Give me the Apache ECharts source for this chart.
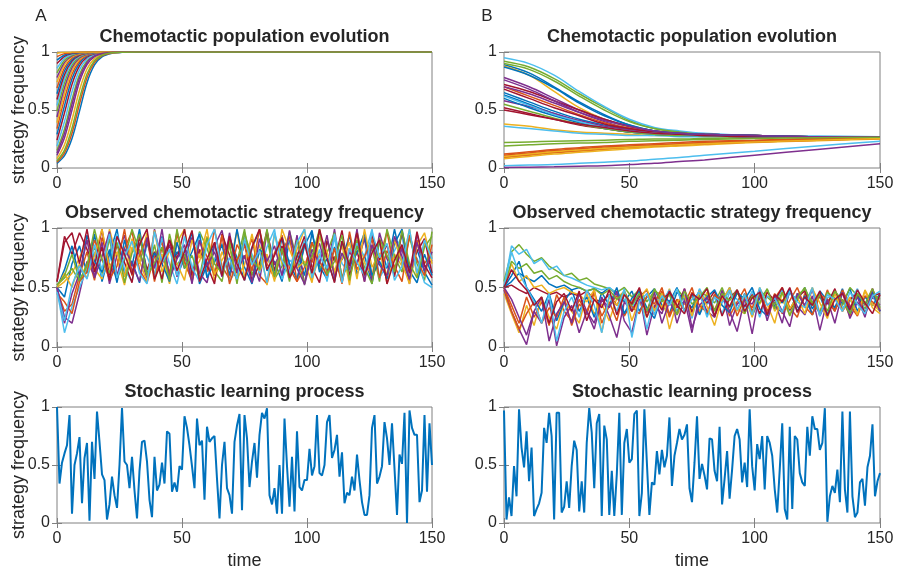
<!DOCTYPE html>
<html>
<head>
<meta charset="utf-8">
<script src="https://cdn.jsdelivr.net/npm/echarts@6/dist/echarts.min.js"></script>
<style>
  html, body { margin: 0; padding: 0; background: #fff; }
  #chart { width: 897px; height: 571px; }
</style>
</head>
<body>
<div id="chart"></div>
<script>
// MATLAB default line colours
const palette = ['#0072BD', '#D95319', '#EDB120', '#7E2F8E', '#77AC30', '#4DBEEE', '#A2142F'];

const panelTitles = [
  'Chemotactic population evolution', 'Chemotactic population evolution',
  'Observed chemotactic strategy frequency', 'Observed chemotactic strategy frequency',
  'Stochastic learning process', 'Stochastic learning process'
];
const panelLetters = ['A', 'B'];
const xTicks = [0, 50, 100, 150];
const yTicks = [0, 0.5, 1];

// panel A, top: times and curves
const popATimes = [0, 3, 6, 9, 12, 15, 18, 22, 26, 32, 40, 150];
const popA = [
  [0.04, 0.106, 0.254, 0.49, 0.735, 0.888, 0.958, 0.989, 0.997, 1, 1, 1],
  [0.05, 0.131, 0.3, 0.552, 0.779, 0.91, 0.966, 0.991, 0.998, 1, 1, 1],
  [0.08, 0.2, 0.416, 0.67, 0.853, 0.943, 0.979, 0.995, 0.999, 1, 1, 1],
  [0.11, 0.261, 0.5, 0.743, 0.892, 0.959, 0.985, 0.996, 1, 1, 1, 1],
  [0.15, 0.336, 0.591, 0.805, 0.922, 0.971, 0.99, 0.997, 1, 1, 1, 1],
  [0.19, 0.401, 0.657, 0.846, 0.94, 0.978, 0.992, 0.998, 1, 1, 1, 1],
  [0.24, 0.475, 0.721, 0.881, 0.955, 0.984, 0.994, 0.999, 1, 1, 1, 1],
  [0.29, 0.537, 0.769, 0.905, 0.964, 0.987, 0.995, 0.999, 1, 1, 1, 1],
  [0.34, 0.596, 0.808, 0.923, 0.972, 0.99, 0.996, 0.999, 1, 1, 1, 1],
  [0.39, 0.646, 0.839, 0.937, 0.977, 0.992, 0.997, 1, 1, 1, 1, 1],
  [0.44, 0.692, 0.865, 0.948, 0.981, 0.993, 0.998, 1, 1, 1, 1, 1],
  [0.49, 0.733, 0.887, 0.957, 0.985, 0.995, 0.998, 1, 1, 1, 1, 1],
  [0.54, 0.77, 0.906, 0.965, 0.987, 0.996, 0.999, 1, 1, 1, 1, 1],
  [0.59, 0.804, 0.921, 0.971, 0.99, 0.996, 0.999, 1, 1, 1, 1, 1],
  [0.64, 0.836, 0.936, 0.977, 0.992, 0.997, 0.999, 1, 1, 1, 1, 1],
  [0.69, 0.864, 0.948, 0.981, 0.993, 0.998, 1, 1, 1, 1, 1, 1],
  [0.74, 0.891, 0.959, 0.985, 0.995, 0.998, 1, 1, 1, 1, 1, 1],
  [0.78, 0.911, 0.967, 0.988, 0.996, 0.999, 1, 1, 1, 1, 1, 1],
  [0.82, 0.929, 0.974, 0.991, 0.997, 0.999, 1, 1, 1, 1, 1, 1],
  [0.86, 0.946, 0.981, 0.993, 0.998, 1, 1, 1, 1, 1, 1, 1],
  [0.9, 0.963, 0.987, 0.995, 0.998, 1, 1, 1, 1, 1, 1, 1],
  [0.93, 0.974, 0.991, 0.997, 0.999, 1, 1, 1, 1, 1, 1, 1],
  [0.96, 0.986, 0.995, 0.998, 1, 1, 1, 1, 1, 1, 1, 1],
  [0.99, 0.997, 0.999, 1, 1, 1, 1, 1, 1, 1, 1, 1],
  [0.13, 0.3, 0.55, 0.777, 0.909, 0.966, 0.988, 0.997, 1, 1, 1, 1],
  [0.06, 0.154, 0.343, 0.599, 0.81, 0.924, 0.972, 0.993, 0.998, 1, 1, 1]
];

// panel B, top
const popBTimes = [0, 10, 20, 30, 40, 50, 60, 70, 80, 100, 125, 150];
const popB = [
  [0.89, 0.82, 0.7, 0.57, 0.46, 0.37, 0.32, 0.3, 0.29, 0.28, 0.27, 0.27],
  [0.12, 0.14, 0.16, 0.175, 0.19, 0.2, 0.21, 0.22, 0.23, 0.24, 0.255, 0.265],
  [0.88, 0.8, 0.66, 0.52, 0.42, 0.35, 0.31, 0.3, 0.29, 0.28, 0.27, 0.27],
  [0.78, 0.7, 0.6, 0.5, 0.42, 0.36, 0.32, 0.3, 0.29, 0.28, 0.27, 0.27],
  [0.92, 0.87, 0.77, 0.64, 0.52, 0.41, 0.34, 0.31, 0.29, 0.28, 0.27, 0.27],
  [0.95, 0.9, 0.8, 0.66, 0.53, 0.42, 0.35, 0.32, 0.3, 0.28, 0.275, 0.27],
  [0.72, 0.66, 0.58, 0.5, 0.42, 0.36, 0.32, 0.3, 0.29, 0.28, 0.27, 0.27],
  [0.65, 0.57, 0.49, 0.42, 0.37, 0.33, 0.3, 0.29, 0.28, 0.27, 0.27, 0.27],
  [0.1, 0.12, 0.14, 0.155, 0.17, 0.185, 0.195, 0.205, 0.215, 0.23, 0.245, 0.26],
  [0.38, 0.36, 0.33, 0.31, 0.3, 0.29, 0.28, 0.28, 0.27, 0.27, 0.27, 0.27],
  [0.76, 0.68, 0.58, 0.48, 0.4, 0.34, 0.31, 0.3, 0.29, 0.28, 0.27, 0.27],
  [0.9, 0.85, 0.75, 0.62, 0.5, 0.4, 0.34, 0.31, 0.29, 0.28, 0.27, 0.27],
  [0.36, 0.34, 0.32, 0.3, 0.29, 0.28, 0.28, 0.27, 0.27, 0.27, 0.27, 0.27],
  [0.52, 0.47, 0.42, 0.37, 0.34, 0.31, 0.3, 0.29, 0.28, 0.27, 0.27, 0.27],
  [0.63, 0.55, 0.47, 0.4, 0.35, 0.31, 0.3, 0.29, 0.28, 0.27, 0.27, 0.27],
  [0.7, 0.62, 0.54, 0.46, 0.39, 0.34, 0.31, 0.29, 0.28, 0.27, 0.27, 0.27],
  [0.09, 0.11, 0.13, 0.145, 0.16, 0.175, 0.19, 0.2, 0.21, 0.225, 0.24, 0.255],
  [0.58, 0.53, 0.47, 0.41, 0.36, 0.33, 0.31, 0.3, 0.29, 0.28, 0.27, 0.27],
  [0.22, 0.225, 0.23, 0.235, 0.24, 0.245, 0.25, 0.25, 0.255, 0.26, 0.265, 0.27],
  [0.02, 0.025, 0.03, 0.04, 0.05, 0.06, 0.075, 0.09, 0.11, 0.145, 0.19, 0.23],
  [0.68, 0.6, 0.52, 0.45, 0.38, 0.34, 0.31, 0.29, 0.28, 0.27, 0.27, 0.27],
  [0.6, 0.52, 0.45, 0.39, 0.34, 0.31, 0.29, 0.28, 0.28, 0.27, 0.27, 0.27],
  [0.11, 0.13, 0.15, 0.165, 0.18, 0.19, 0.2, 0.21, 0.22, 0.235, 0.25, 0.26],
  [0.08, 0.1, 0.12, 0.135, 0.15, 0.165, 0.18, 0.19, 0.2, 0.22, 0.235, 0.25],
  [0.005, 0.007, 0.01, 0.015, 0.02, 0.03, 0.04, 0.055, 0.07, 0.11, 0.16, 0.21],
  [0.55, 0.49, 0.43, 0.38, 0.34, 0.31, 0.29, 0.28, 0.28, 0.27, 0.27, 0.27],
  [0.62, 0.54, 0.46, 0.4, 0.35, 0.32, 0.3, 0.29, 0.28, 0.27, 0.27, 0.27],
  [0.5, 0.46, 0.42, 0.38, 0.35, 0.32, 0.3, 0.29, 0.28, 0.27, 0.27, 0.27],
  [0.87, 0.8, 0.69, 0.56, 0.45, 0.37, 0.32, 0.3, 0.29, 0.28, 0.27, 0.27],
  [0.095, 0.115, 0.135, 0.15, 0.165, 0.18, 0.19, 0.2, 0.21, 0.225, 0.24, 0.255],
  [0.1, 0.12, 0.14, 0.155, 0.17, 0.18, 0.19, 0.2, 0.21, 0.225, 0.24, 0.255],
  [0.7, 0.64, 0.56, 0.48, 0.41, 0.36, 0.32, 0.3, 0.29, 0.28, 0.27, 0.27],
  [0.19, 0.2, 0.21, 0.215, 0.22, 0.23, 0.235, 0.24, 0.245, 0.255, 0.26, 0.265]
];

// observed frequencies, sampled every 3 time units
const obsStep = 3;
const obsA = [
  [0.5,0.42,0.7,0.85,0.62,0.95,0.55,0.78,0.99,0.6,0.72,0.54,0.88,0.67,0.93,0.58,0.8,0.71,0.97,0.53,0.69,0.86,0.62,0.92,0.75,0.56,0.83,0.98,0.64,0.72,0.55,0.9,0.79,0.6,0.96,0.68,0.57,0.84,0.73,0.94,0.61,0.77,0.53,0.89,0.66,0.99,0.7,0.58,0.82,0.63,0.52],
  [0.48,0.3,0.36,0.6,0.8,0.56,0.92,0.7,0.58,0.83,0.97,0.65,0.54,0.76,0.88,0.6,0.95,0.72,0.55,0.81,0.63,0.99,0.68,0.57,0.86,0.74,0.91,0.6,0.53,0.79,0.94,0.66,0.55,0.87,0.71,0.98,0.62,0.76,0.54,0.83,0.69,0.93,0.58,0.74,0.97,0.64,0.85,0.56,0.9,0.7,0.8],
  [0.5,0.55,0.62,0.75,0.9,0.66,0.57,0.99,0.74,0.52,0.84,0.7,0.96,0.61,0.78,0.53,0.88,0.99,0.64,0.72,0.93,0.55,0.8,0.67,0.98,0.59,0.73,0.86,0.52,0.95,0.7,0.61,0.82,0.99,0.56,0.77,0.9,0.63,0.86,0.52,0.97,0.71,0.6,0.92,0.53,0.78,0.68,0.99,0.59,0.87,0.75],
  [0.5,0.25,0.2,0.45,0.72,0.6,0.88,0.53,0.77,0.94,0.63,0.82,0.56,0.99,0.7,0.86,0.59,0.75,0.92,0.62,0.54,0.85,0.98,0.66,0.58,0.9,0.73,0.55,0.97,0.69,0.81,0.6,0.94,0.52,0.77,0.87,0.64,0.99,0.57,0.8,0.7,0.91,0.55,0.96,0.74,0.62,0.83,0.53,0.95,0.67,0.73],
  [0.52,0.58,0.66,0.55,0.7,0.84,0.62,0.91,0.57,0.73,0.99,0.8,0.6,0.86,0.54,0.95,0.69,0.78,0.58,0.97,0.83,0.64,0.55,0.89,0.71,0.99,0.6,0.8,0.93,0.57,0.68,0.97,0.74,0.53,0.88,0.65,0.79,0.96,0.58,0.72,0.9,0.61,0.84,0.55,0.99,0.76,0.63,0.92,0.7,0.56,0.97],
  [0.48,0.12,0.34,0.5,0.66,0.8,0.59,0.72,0.95,0.65,0.55,0.88,0.76,0.6,0.92,0.7,0.53,0.83,0.64,0.96,0.59,0.74,0.87,0.55,0.66,0.93,0.78,0.62,0.84,0.99,0.57,0.73,0.68,0.9,0.6,0.82,0.55,0.95,0.7,0.63,0.87,0.76,0.99,0.58,0.69,0.81,0.93,0.6,0.75,0.54,0.5],
  [0.55,0.93,0.78,0.96,0.82,0.68,0.99,0.6,0.86,0.71,0.54,0.93,0.65,0.8,0.57,0.9,0.74,0.99,0.6,0.82,0.69,0.53,0.95,0.77,0.62,0.88,0.55,0.7,0.98,0.64,0.85,0.57,0.76,0.93,0.67,0.54,0.89,0.72,0.98,0.6,0.81,0.55,0.94,0.73,0.86,0.59,0.97,0.66,0.8,0.91,0.62],
  [0.5,0.65,0.85,0.58,0.94,0.72,0.63,0.82,0.54,0.9,0.68,0.99,0.61,0.79,0.7,0.55,0.88,0.66,0.8,0.95,0.58,0.71,0.86,0.6,0.99,0.67,0.53,0.82,0.76,0.61,0.92,0.7,0.57,0.85,0.98,0.63,0.74,0.55,0.89,0.68,0.79,0.96,0.6,0.72,0.57,0.87,0.99,0.64,0.54,0.78,0.6],
  [0.45,0.38,0.28,0.55,0.63,0.9,0.74,0.57,0.68,0.99,0.6,0.77,0.92,0.55,0.84,0.62,0.97,0.71,0.57,0.89,0.76,0.6,0.94,0.53,0.73,0.85,0.64,0.99,0.7,0.58,0.8,0.93,0.55,0.67,0.88,0.72,0.6,0.83,0.53,0.97,0.65,0.76,0.91,0.58,0.81,0.68,0.55,0.94,0.73,0.6,0.86],
  [0.5,0.62,0.5,0.7,0.58,0.77,0.99,0.66,0.8,0.59,0.91,0.72,0.55,0.98,0.63,0.81,0.7,0.56,0.9,0.75,0.99,0.61,0.73,0.84,0.57,0.69,0.95,0.64,0.78,0.55,0.99,0.82,0.66,0.72,0.54,0.93,0.8,0.61,0.74,0.88,0.57,0.99,0.67,0.79,0.6,0.9,0.71,0.53,0.85,0.96,0.7],
  [0.5,0.2,0.45,0.62,0.9,0.58,0.76,0.97,0.6,0.83,0.7,0.55,0.92,0.66,0.99,0.57,0.74,0.86,0.53,0.9,0.68,0.8,0.59,0.96,0.63,0.77,0.54,0.91,0.72,0.85,0.6,0.98,0.66,0.53,0.82,0.7,0.94,0.58,0.79,0.65,0.99,0.55,0.86,0.69,0.6,0.93,0.76,0.57,0.88,0.64,0.8],
  [0.52,0.6,0.78,0.56,0.68,0.99,0.73,0.62,0.88,0.54,0.79,0.95,0.6,0.71,0.84,0.56,0.99,0.66,0.77,0.58,0.92,0.7,0.62,0.87,0.53,0.96,0.74,0.65,0.99,0.59,0.83,0.55,0.9,0.68,0.76,0.99,0.61,0.72,0.94,0.56,0.85,0.67,0.53,0.91,0.77,0.63,0.98,0.7,0.58,0.84,0.93],
  [0.46,0.22,0.52,0.68,0.57,0.86,0.65,0.95,0.58,0.76,0.89,0.62,0.53,0.97,0.71,0.82,0.6,0.93,0.67,0.55,0.86,0.99,0.63,0.75,0.57,0.9,0.69,0.81,0.54,0.96,0.73,0.62,0.88,0.99,0.58,0.77,0.66,0.92,0.54,0.83,0.71,0.6,0.97,0.75,0.87,0.56,0.68,0.99,0.62,0.9,0.74],
  [0.55,0.88,0.96,0.7,0.99,0.63,0.84,0.56,0.93,0.78,0.61,0.86,0.99,0.57,0.72,0.9,0.64,0.8,0.98,0.55,0.74,0.88,0.6,0.93,0.7,0.56,0.84,0.99,0.65,0.77,0.92,0.58,0.7,0.87,0.62,0.99,0.75,0.54,0.89,0.68,0.96,0.6,0.79,0.9,0.53,0.73,0.86,0.62,0.97,0.69,0.58]
];
const obsB = [
  [0.5,0.55,0.62,0.58,0.55,0.6,0.53,0.5,0.52,0.48,0.5,0.47,0.49,0.45,0.5,0.44,0.38,0.47,0.3,0.42,0.49,0.35,0.28,0.46,0.4,0.33,0.48,0.27,0.44,0.37,0.5,0.31,0.45,0.26,0.41,0.48,0.34,0.29,0.46,0.39,0.5,0.32,0.43,0.27,0.47,0.36,0.49,0.3,0.42,0.35,0.45],
  [0.5,0.35,0.2,0.42,0.25,0.38,0.18,0.44,0.3,0.22,0.4,0.27,0.48,0.2,0.35,0.43,0.26,0.38,0.49,0.29,0.33,0.47,0.25,0.4,0.36,0.5,0.28,0.42,0.31,0.46,0.26,0.38,0.49,0.3,0.44,0.27,0.41,0.5,0.33,0.25,0.45,0.37,0.29,0.48,0.32,0.4,0.26,0.44,0.35,0.49,0.3],
  [0.45,0.28,0.12,0.35,0.18,0.42,0.25,0.15,0.38,0.3,0.2,0.45,0.28,0.36,0.22,0.41,0.47,0.3,0.38,0.25,0.44,0.33,0.49,0.27,0.37,0.42,0.3,0.46,0.26,0.39,0.5,0.32,0.28,0.43,0.36,0.48,0.3,0.4,0.27,0.45,0.34,0.5,0.29,0.38,0.46,0.31,0.42,0.27,0.48,0.36,0.3],
  [0.48,0.3,0.15,0.02,0.3,0.2,0.4,0.01,0.25,0.35,0.12,0.3,0.2,0.42,0.26,0.08,0.38,0.3,0.45,0.1,0.35,0.28,0.47,0.2,0.4,0.12,0.44,0.3,0.25,0.48,0.18,0.36,0.42,0.11,0.46,0.3,0.38,0.2,0.49,0.34,0.27,0.43,0.14,0.4,0.3,0.47,0.24,0.38,0.28,0.42,0.35],
  [0.55,0.8,0.86,0.78,0.72,0.75,0.68,0.64,0.6,0.62,0.56,0.58,0.53,0.51,0.49,0.46,0.5,0.42,0.48,0.38,0.47,0.44,0.35,0.49,0.41,0.3,0.46,0.43,0.37,0.5,0.33,0.45,0.4,0.28,0.47,0.42,0.36,0.49,0.31,0.44,0.48,0.38,0.29,0.46,0.41,0.35,0.5,0.43,0.32,0.45,0.4],
  [0.5,0.85,0.78,0.82,0.7,0.74,0.65,0.68,0.6,0.58,0.55,0.52,0.5,0.48,0.5,0.45,0.4,0.32,0.47,0.15,0.42,0.38,0.48,0.3,0.44,0.24,0.49,0.36,0.42,0.28,0.46,0.4,0.33,0.47,0.25,0.43,0.39,0.48,0.3,0.45,0.35,0.5,0.27,0.41,0.46,0.33,0.38,0.49,0.29,0.44,0.3],
  [0.5,0.52,0.48,0.45,0.5,0.47,0.44,0.46,0.42,0.45,0.43,0.47,0.4,0.38,0.44,0.35,0.46,0.3,0.42,0.48,0.27,0.4,0.45,0.33,0.49,0.29,0.43,0.37,0.47,0.26,0.41,0.48,0.34,0.44,0.28,0.46,0.39,0.5,0.31,0.42,0.47,0.27,0.44,0.36,0.49,0.3,0.4,0.45,0.28,0.43,0.45],
  [0.5,0.6,0.72,0.5,0.4,0.3,0.45,0.22,0.38,0.48,0.3,0.42,0.25,0.46,0.35,0.5,0.28,0.41,0.47,0.33,0.24,0.44,0.38,0.5,0.3,0.45,0.27,0.42,0.48,0.35,0.29,0.46,0.4,0.5,0.32,0.26,0.44,0.37,0.48,0.3,0.43,0.27,0.47,0.39,0.33,0.49,0.28,0.42,0.36,0.46,0.3],
  [0.5,0.3,0.15,0.28,0.38,0.2,0.33,0.25,0.42,0.18,0.36,0.3,0.45,0.26,0.38,0.22,0.47,0.34,0.28,0.43,0.36,0.5,0.27,0.4,0.31,0.46,0.35,0.29,0.44,0.38,0.48,0.26,0.41,0.33,0.47,0.3,0.45,0.28,0.39,0.5,0.34,0.27,0.44,0.4,0.3,0.48,0.35,0.26,0.43,0.38,0.32],
  [0.5,0.7,0.55,0.6,0.5,0.52,0.45,0.48,0.5,0.46,0.44,0.38,0.48,0.12,0.42,0.35,0.47,0.22,0.4,0.49,0.3,0.45,0.15,0.38,0.43,0.26,0.47,0.34,0.18,0.41,0.48,0.3,0.44,0.25,0.5,0.36,0.2,0.46,0.32,0.42,0.28,0.49,0.37,0.24,0.45,0.3,0.41,0.27,0.47,0.33,0.28],
  [0.5,0.4,0.25,0.1,0.3,0.42,0.05,0.28,0.38,0.2,0.45,0.3,0.15,0.4,0.33,0.47,0.22,0.12,0.4,0.3,0.46,0.2,0.38,0.27,0.49,0.16,0.35,0.42,0.25,0.47,0.3,0.13,0.4,0.36,0.48,0.22,0.43,0.3,0.17,0.45,0.35,0.48,0.26,0.4,0.2,0.46,0.33,0.42,0.25,0.49,0.3],
  [0.5,0.72,0.66,0.7,0.62,0.64,0.57,0.6,0.55,0.52,0.5,0.47,0.49,0.44,0.48,0.4,0.46,0.35,0.45,0.3,0.49,0.38,0.44,0.27,0.47,0.36,0.42,0.5,0.3,0.45,0.39,0.48,0.28,0.43,0.37,0.49,0.32,0.46,0.26,0.41,0.5,0.35,0.44,0.3,0.47,0.39,0.28,0.45,0.36,0.49,0.33],
  [0.5,0.8,0.62,0.5,0.38,0.2,0.45,0.05,0.3,0.42,0.25,0.48,0.35,0.12,0.44,0.3,0.49,0.08,0.38,0.45,0.27,0.43,0.35,0.49,0.3,0.4,0.46,0.25,0.42,0.37,0.48,0.31,0.44,0.27,0.5,0.35,0.41,0.29,0.47,0.38,0.33,0.49,0.26,0.44,0.4,0.3,0.46,0.36,0.28,0.43,0.47],
  [0.5,0.65,0.55,0.48,0.35,0.42,0.2,0.38,0.45,0.3,0.47,0.22,0.4,0.33,0.48,0.27,0.44,0.36,0.5,0.25,0.42,0.31,0.47,0.35,0.28,0.45,0.4,0.49,0.26,0.43,0.34,0.48,0.3,0.41,0.46,0.27,0.44,0.38,0.5,0.29,0.42,0.35,0.47,0.26,0.4,0.45,0.31,0.48,0.37,0.28,0.44]
];

// stochastic learning, one value per time step (t = 0..150)
const learnA = [
  1.0,0.34,0.52,0.6,0.67,0.93,0.08,0.5,0.6,0.74,0.17,0.56,0.69,0.02,0.7,0.38,0.96,0.7,0.42,0.37,
  0.03,0.16,0.4,0.24,0.13,0.5,0.99,0.53,0.5,0.3,0.57,0.28,0.04,0.45,0.7,0.71,0.53,0.2,0.05,0.57,
  0.28,0.33,0.52,0.34,0.79,0.77,0.27,0.35,0.27,0.49,0.46,0.92,0.82,0.67,0.49,0.3,0.9,0.67,0.71,0.2,
  0.83,0.7,0.73,0.75,0.38,0.04,0.5,0.7,0.3,0.24,0.08,0.7,0.84,0.94,0.11,0.93,0.73,0.31,0.53,0.69,
  0.39,0.76,0.95,0.9,0.99,0.24,0.16,0.3,0.08,0.5,0.08,0.9,0.49,0.14,0.57,0.1,0.79,0.31,0.28,0.37,
  0.37,0.64,0.41,0.49,0.93,0.43,0.41,0.5,0.87,0.93,0.56,0.63,0.76,0.4,0.61,0.17,0.26,0.24,0.4,0.28,
  0.59,0.37,0.18,0.07,0.07,0.24,0.82,0.93,0.34,0.4,0.49,0.87,0.73,0.5,0.86,0.47,0.07,0.59,0.51,0.95,
  0.0,0.97,0.82,0.76,0.76,0.18,0.28,0.93,0.27,0.86,0.5
];
const learnB = [
  0.97,0.03,0.22,0.06,0.49,0.23,0.98,0.65,0.48,0.79,0.36,0.65,0.06,0.12,0.17,0.26,0.82,0.69,0.95,0.75,
  0.03,0.95,0.95,0.09,0.14,0.36,0.13,0.49,0.71,0.63,0.1,0.36,0.09,0.69,0.99,0.78,0.3,0.86,0.94,0.06,
  0.84,0.72,0.07,0.45,0.06,0.42,0.95,0.07,0.69,0.81,0.52,0.55,0.94,0.97,0.06,0.26,0.98,0.52,0.07,0.35,
  0.33,0.62,0.42,0.63,0.48,0.58,0.91,0.32,0.58,0.69,0.81,0.72,0.76,0.85,0.3,0.18,0.52,0.92,0.38,0.51,
  0.41,0.29,0.73,0.72,0.45,0.36,0.83,0.16,0.38,0.62,0.21,0.46,0.75,0.81,0.72,0.35,0.52,0.31,0.98,0.49,
  0.28,0.68,0.55,0.75,0.29,0.75,0.69,0.58,0.29,0.09,0.46,0.86,0.12,0.03,0.83,0.12,0.75,0.72,0.43,0.35,
  0.32,0.83,0.58,0.92,0.81,0.81,0.63,0.69,0.99,0.01,0.23,0.32,0.26,0.46,0.18,0.96,0.29,0.09,0.96,0.23,
  0.05,0.09,0.35,0.38,0.15,0.48,0.58,0.85,0.23,0.36,0.43
];

const font = '"Liberation Sans", Arial, Helvetica, sans-serif';
const ink = '#262626';
const frame = '#808080';

const grids = [
  { left: 57, top: 52, width: 375, height: 116 },
  { left: 504, top: 52, width: 376, height: 116 },
  { left: 57, top: 228, width: 375, height: 119 },
  { left: 504, top: 228, width: 376, height: 119 },
  { left: 57, top: 407, width: 375, height: 116 },
  { left: 504, top: 407, width: 376, height: 116 }
];

const xAxes = [], yAxes = [];
grids.forEach((g, i) => {
  g.show = true;
  g.borderColor = frame;
  g.borderWidth = 1;
  g.containLabel = false;
  ['bottom', 'top'].forEach(pos => {
    xAxes.push({
      gridIndex: i, type: 'value', position: pos,
      min: xTicks[0], max: xTicks[xTicks.length - 1], interval: xTicks[1] - xTicks[0],
      axisLine: { show: false },
      axisTick: { show: true, inside: true, length: 5, lineStyle: { color: frame } },
      axisLabel: { show: pos === 'bottom', fontSize: 16, color: ink, fontFamily: font, margin: 8 },
      splitLine: { show: false }
    });
  });
  ['left', 'right'].forEach(pos => {
    yAxes.push({
      gridIndex: i, type: 'value', position: pos,
      min: yTicks[0], max: yTicks[yTicks.length - 1], interval: yTicks[1] - yTicks[0],
      axisLine: { show: false },
      axisTick: { show: true, inside: true, length: 5, lineStyle: { color: frame } },
      axisLabel: { show: pos === 'left', fontSize: 16, color: ink, fontFamily: font, margin: 7 },
      splitLine: { show: false }
    });
  });
});

function line(gi, times, values, colorIdx, width, smooth) {
  return {
    type: 'line',
    xAxisIndex: gi * 2,
    yAxisIndex: gi * 2,
    data: values.map((v, k) => [times[k], v]),
    showSymbol: false,
    symbol: 'none',
    smooth: smooth,
    silent: true,
    lineStyle: { width: width, color: palette[colorIdx % palette.length] }
  };
}

const series = [];
popA.forEach((c, i) => series.push(line(0, popATimes, c, i, 1.5, 0.3)));
popB.forEach((c, i) => series.push(line(1, popBTimes, c, i, 1.5, 0.35)));
const obsTimes = obsA[0].map((_, k) => k * obsStep);
obsA.forEach((c, i) => series.push(line(2, obsTimes, c, i, 1.5, false)));
obsB.forEach((c, i) => series.push(line(3, obsTimes, c, i, 1.5, false)));
const learnTimes = learnA.map((_, k) => k);
series.push(line(4, learnTimes, learnA, 0, 2, false));
series.push(line(5, learnTimes, learnB, 0, 2, false));

function txt(x, y, text, size, weight, rot) {
  return {
    type: 'text', x: x, y: y, rotation: rot || 0, silent: true,
    style: {
      text: text, fill: ink,
      font: (weight || 'normal') + ' ' + size + 'px ' + font,
      textAlign: 'center', textVerticalAlign: 'middle',
      align: 'center', verticalAlign: 'middle'
    }
  };
}

const graphics = [];
grids.forEach((g, i) => {
  const cx = g.left + g.width / 2;
  graphics.push(txt(cx, g.top - 15, panelTitles[i], 18, 'bold'));
  if (i % 2 === 0) {
    graphics.push(txt(19, g.top + g.height / 2, 'strategy frequency', 18, 'normal', Math.PI / 2));
  }
  if (i >= 4) {
    graphics.push(txt(cx, 561, 'time', 18, 'normal'));
  }
});
graphics.push(txt(41, 16, panelLetters[0], 17, 'normal'));
graphics.push(txt(487, 16, panelLetters[1], 17, 'normal'));

const chart = echarts.init(document.getElementById('chart'), null, { renderer: 'canvas' });
chart.setOption({
  animation: false,
  backgroundColor: '#ffffff',
  grid: grids,
  xAxis: xAxes,
  yAxis: yAxes,
  series: series,
  graphic: graphics
});
</script>
</body>
</html>
